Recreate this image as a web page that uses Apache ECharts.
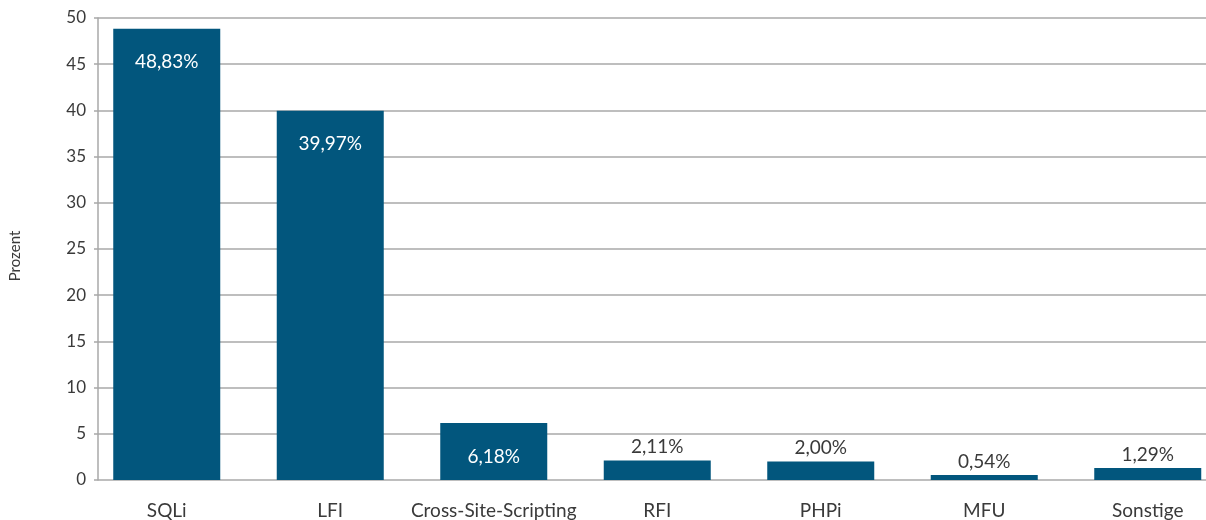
<!DOCTYPE html>
<html>
<head>
<meta charset="utf-8">
<script src="https://cdn.jsdelivr.net/npm/echarts@6/dist/echarts.min.js"></script>
<style>html,body{margin:0;padding:0;background:#fff}#c{width:1206px;height:520px}</style>
</head>
<body>
<div id="c"></div>
<script>
const categories = ['SQLi', 'LFI', 'Cross-Site-Scripting', 'RFI', 'PHPi', 'MFU', 'Sonstige'];
const values = [48.83, 39.97, 6.18, 2.11, 2.00, 0.54, 1.29];
const yTicks = [0, 5, 10, 15, 20, 25, 30, 35, 40, 45, 50];
const yTitle = 'Prozent';

const FONT = 'Lato';
const BAR = '#02567D';
const fmt = v => v.toFixed(2).replace('.', ',') + '%';

const chart = echarts.init(document.getElementById('c'), null, {renderer: 'canvas'});
chart.setOption({
  animation: false,
  textStyle: {fontFamily: FONT},
  grid: [
    {left: 85, width: 1144.5, top: 18, bottom: 40, outerBoundsMode: 'none'},
    {left: 98, right: 0, top: 18, bottom: 40, outerBoundsMode: 'none'}
  ],
  xAxis: [
    {
      type: 'category', gridIndex: 0, data: categories,
      axisLine: {show: false}, axisTick: {show: false},
      axisLabel: {interval: 0, margin: 21, fontSize: 19, color: '#3a3a3a', fontFamily: FONT}
    },
    {type: 'value', gridIndex: 1, show: false, min: 0, max: 1}
  ],
  yAxis: [
    {type: 'value', gridIndex: 0, min: yTicks[0], max: yTicks[yTicks.length - 1], interval: 5, show: false},
    {
      type: 'value', gridIndex: 1, min: yTicks[0], max: yTicks[yTicks.length - 1], interval: 5,
      axisLine: {show: true, lineStyle: {color: '#a8a8a8', width: 1.5}},
      axisTick: {show: true, length: 4, lineStyle: {color: '#a8a8a8', width: 1.5}},
      splitLine: {show: true, lineStyle: {color: '#a8a8a8', width: 1.5}},
      axisLabel: {margin: 12, fontSize: 17, color: '#3a3a3a', fontFamily: FONT}
    }
  ],
  graphic: [{
    type: 'text', x: 15, y: 256, rotation: Math.PI / 2,
    style: {text: yTitle, align: 'center', verticalAlign: 'middle', fontSize: 15, fill: '#3a3a3a', fontFamily: FONT}
  }],
  series: [{
    type: 'bar', xAxisIndex: 0, yAxisIndex: 0, barWidth: 107,
    itemStyle: {color: BAR},
    data: values.map(v => ({
      value: v,
      label: v > 5
        ? {show: true, position: 'insideTop', distance: 24, color: '#ffffff', fontSize: 19, fontFamily: FONT, formatter: p => fmt(p.value)}
        : {show: true, position: 'top', distance: 4, color: '#3a3a3a', fontSize: 19, fontFamily: FONT, formatter: p => fmt(p.value)}
    }))
  }]
});
</script>
</body>
</html>
